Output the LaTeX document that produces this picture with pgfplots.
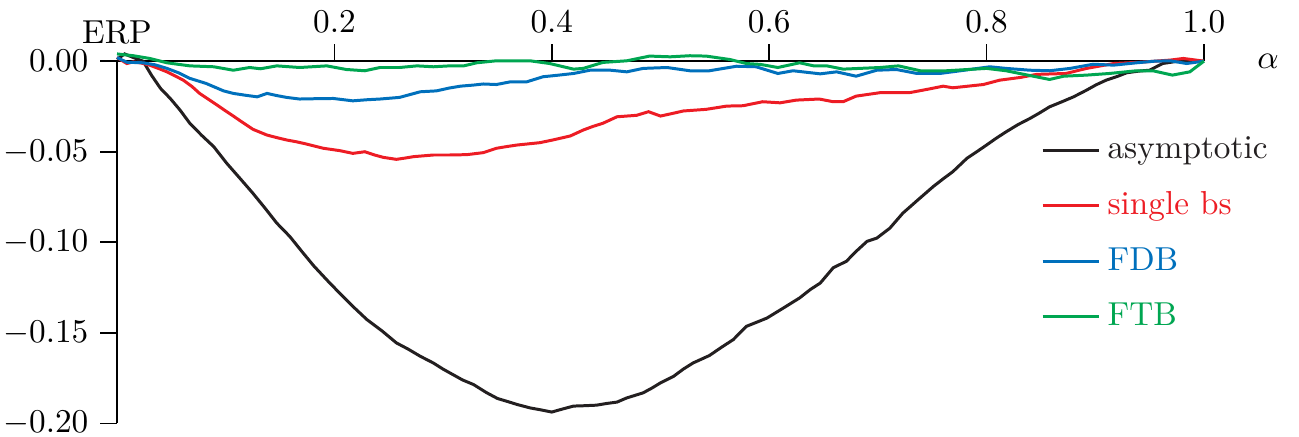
\documentclass[border=0pt]{standalone}
\usepackage{pgfplots}
\pgfplotsset{compat=1.18}
\definecolor{cblack}{RGB}{35,31,32}
\definecolor{cred}{RGB}{237,28,36}
\definecolor{cblue}{RGB}{0,112,188}
\definecolor{cgreen}{RGB}{0,166,81}
\begin{document}
\begin{tikzpicture}
\begin{axis}[
  name=ax,
  scale only axis, width=327pt, height=109pt,
  xmin=0, xmax=1, ymin=-0.2, ymax=0,
  axis x line=top, axis y line=left,
  axis line style={-, line width=0.5pt},
  clip=false,
  xtick={0.2,0.4,0.6,0.8,1.0},
  ytick={-0.2,-0.15,-0.1,-0.05,0},
  tick align=outside, major tick length=5.1pt,
  tick style={line width=0.5pt, black},
  xticklabel style={/pgf/number format/.cd, fixed, fixed zerofill, precision=1},
  yticklabel style={/pgf/number format/.cd, fixed, fixed zerofill, precision=2},
  xlabel={$\alpha$}, ylabel={ERP},
  x label style={at={(axis description cs:1,1)}, anchor=center, xshift=19.3pt, yshift=0pt},
  every axis y label/.style={at={(axis description cs:0,1)}, anchor=south, yshift=1.6pt},
  legend style={draw=none, fill=none, at={(axis cs:0.8405,-0.0953)}, anchor=west, row sep=4.4pt},
  legend cell align=left,
  every axis plot/.append style={line width=0.9pt},
]
\addplot[cblack] coordinates {
(0,0.001)(0.007,0.004)(0.015,0.002)(0.024,0.0)(0.032,-0.008)(0.040,-0.015)(0.049,-0.0206)(0.058,-0.027)(0.067,-0.0343)(0.078,-0.041)(0.089,-0.0472)(0.101,-0.0564)(0.113,-0.0646)(0.125,-0.0729)(0.136,-0.081)(0.147,-0.0894)(0.159,-0.0968)(0.170,-0.105)(0.181,-0.113)(0.195,-0.122)(0.208,-0.130)(0.219,-0.1365)(0.230,-0.1427)(0.244,-0.149)(0.257,-0.1555)(0.268,-0.159)(0.279,-0.1629)(0.291,-0.1666)(0.300,-0.170)(0.309,-0.173)(0.318,-0.176)(0.328,-0.1785)(0.340,-0.183)(0.350,-0.1862)(0.360,-0.188)(0.368,-0.1895)(0.380,-0.1914)(0.390,-0.1925)(0.400,-0.1937)(0.410,-0.192)(0.420,-0.1904)(0.430,-0.1902)(0.441,-0.1899)(0.450,-0.189)(0.460,-0.1882)(0.469,-0.1859)(0.484,-0.1831)(0.492,-0.1805)(0.500,-0.1776)(0.512,-0.174)(0.521,-0.170)(0.530,-0.1666)(0.545,-0.1625)(0.556,-0.158)(0.567,-0.1537)(0.579,-0.1464)(0.589,-0.144)(0.598,-0.1418)(0.613,-0.1363)(0.628,-0.1307)(0.638,-0.126)(0.647,-0.1225)(0.659,-0.114)(0.671,-0.1105)(0.680,-0.105)(0.690,-0.0995)(0.699,-0.0977)(0.711,-0.0922)(0.723,-0.0839)(0.737,-0.0765)(0.751,-0.0692)(0.760,-0.065)(0.769,-0.061)(0.782,-0.0536)(0.791,-0.050)(0.800,-0.0463)(0.809,-0.0425)(0.818,-0.039)(0.829,-0.035)(0.840,-0.0316)(0.849,-0.0285)(0.858,-0.0252)(0.869,-0.0225)(0.880,-0.0197)(0.892,-0.016)(0.901,-0.013)(0.910,-0.0105)(0.920,-0.0085)(0.929,-0.0064)(0.940,-0.0055)(0.950,-0.005)(0.962,-0.0013)(0.973,-0.0003)(0.984,0.0002)(1.0,0.0)
};
\addlegendentry{\textcolor{cblack}{asymptotic}}
\addplot[cred] coordinates {
(0,0.002)(0.009,-0.0013)(0.015,-0.0004)(0.022,-0.001)(0.030,-0.0022)(0.038,-0.004)(0.046,-0.0059)(0.053,-0.008)(0.061,-0.0105)(0.069,-0.014)(0.076,-0.0178)(0.084,-0.021)(0.092,-0.0242)(0.100,-0.0275)(0.107,-0.0303)(0.116,-0.034)(0.125,-0.0376)(0.138,-0.0408)(0.147,-0.0422)(0.156,-0.0435)(0.165,-0.0445)(0.174,-0.0457)(0.190,-0.0481)(0.205,-0.0494)(0.217,-0.0509)(0.228,-0.0500)(0.237,-0.0518)(0.245,-0.0531)(0.257,-0.0542)(0.265,-0.0535)(0.273,-0.0527)(0.291,-0.0518)(0.306,-0.0518)(0.322,-0.0516)(0.337,-0.0505)(0.349,-0.0481)(0.358,-0.0472)(0.368,-0.0463)(0.389,-0.0450)(0.401,-0.0435)(0.417,-0.0413)(0.429,-0.0380)(0.438,-0.036)(0.447,-0.0343)(0.460,-0.0307)(0.478,-0.0299)(0.489,-0.0279)(0.500,-0.0303)(0.510,-0.029)(0.521,-0.0275)(0.542,-0.0266)(0.561,-0.0248)(0.576,-0.0246)(0.594,-0.0224)(0.610,-0.0230)(0.625,-0.0215)(0.646,-0.0209)(0.659,-0.0224)(0.668,-0.0224)(0.680,-0.0193)(0.702,-0.0174)(0.730,-0.0173)(0.745,-0.0156)(0.760,-0.0138)(0.769,-0.0147)(0.797,-0.0129)(0.812,-0.0105)(0.831,-0.0090)(0.846,-0.0073)(0.873,-0.0068)(0.892,-0.0040)(0.917,-0.0013)(0.941,-0.0006)(0.969,0.0006)(0.981,0.0015)(0.990,0.0008)(1.0,0.0)
};
\addlegendentry{\textcolor{cred}{single bs}}
\addplot[cblue] coordinates {
(0,0.002)(0.009,-0.0006)(0.024,-0.0009)(0.035,-0.002)(0.046,-0.004)(0.057,-0.0065)(0.067,-0.0095)(0.082,-0.0123)(0.098,-0.0164)(0.107,-0.0178)(0.118,-0.0188)(0.129,-0.0197)(0.138,-0.0178)(0.147,-0.019)(0.156,-0.0200)(0.168,-0.0209)(0.185,-0.0207)(0.199,-0.0206)(0.217,-0.0219)(0.230,-0.0213)(0.242,-0.0209)(0.260,-0.0200)(0.279,-0.0169)(0.294,-0.0164)(0.306,-0.0148)(0.316,-0.0138)(0.328,-0.0132)(0.337,-0.0126)(0.349,-0.0129)(0.362,-0.0114)(0.377,-0.0114)(0.392,-0.0086)(0.405,-0.0078)(0.420,-0.0068)(0.435,-0.0050)(0.454,-0.0050)(0.469,-0.0059)(0.484,-0.0040)(0.506,-0.0035)(0.527,-0.0053)(0.545,-0.0053)(0.570,-0.0028)(0.588,-0.0031)(0.608,-0.0068)(0.622,-0.0053)(0.647,-0.0070)(0.662,-0.0059)(0.680,-0.0083)(0.699,-0.0050)(0.717,-0.0046)(0.736,-0.0068)(0.757,-0.0068)(0.776,-0.0053)(0.803,-0.0031)(0.818,-0.0040)(0.840,-0.0050)(0.858,-0.0053)(0.877,-0.0040)(0.898,-0.0017)(0.917,-0.0022)(0.938,-0.0009)(0.955,0.0000)(0.969,0.0002)(0.984,-0.0013)(1.0,0.0)
};
\addlegendentry{\textcolor{cblue}{FDB}}
\addplot[cgreen] coordinates {
(0,0.004)(0.015,0.003)(0.030,0.0015)(0.046,-0.0009)(0.067,-0.0026)(0.089,-0.0031)(0.107,-0.0050)(0.122,-0.0035)(0.132,-0.0042)(0.147,-0.0026)(0.168,-0.0035)(0.193,-0.0026)(0.211,-0.0046)(0.228,-0.0053)(0.242,-0.0035)(0.260,-0.0035)(0.276,-0.0026)(0.291,-0.0031)(0.306,-0.0026)(0.319,-0.0026)(0.331,-0.0009)(0.349,0.0002)(0.380,0.0002)(0.398,-0.0013)(0.420,-0.0044)(0.429,-0.0040)(0.447,-0.0007)(0.469,0.0002)(0.490,0.0028)(0.509,0.0024)(0.527,0.0030)(0.542,0.0028)(0.564,0.0009)(0.579,-0.0013)(0.592,-0.0018)(0.608,-0.0035)(0.628,-0.0009)(0.641,-0.0026)(0.653,-0.0026)(0.668,-0.0044)(0.702,-0.0035)(0.719,-0.0026)(0.739,-0.0053)(0.763,-0.0053)(0.800,-0.0040)(0.818,-0.0053)(0.843,-0.0083)(0.858,-0.0101)(0.871,-0.0083)(0.892,-0.0077)(0.913,-0.0068)(0.938,-0.0053)(0.953,-0.0053)(0.971,-0.0077)(0.987,-0.0059)(1.0,0.0)
};
\addlegendentry{\textcolor{cgreen}{FTB}}
\end{axis}
\pgfresetboundingbox
\path[use as bounding box] ([xshift=-35.2pt,yshift=-3.9pt]ax.south west) rectangle ([xshift=28.6pt,yshift=18.4pt]ax.north east);
\end{tikzpicture}
\end{document}
